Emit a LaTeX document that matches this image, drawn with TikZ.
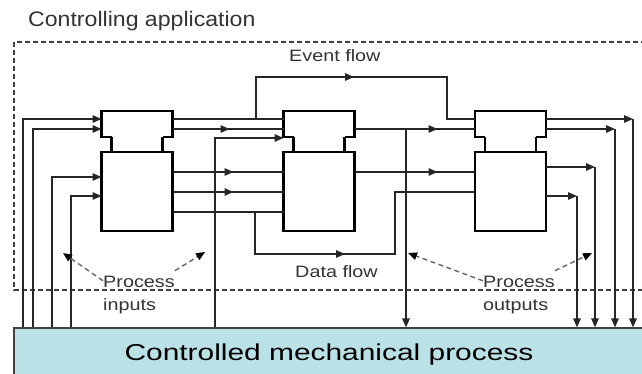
\documentclass[tikz,border=0pt]{standalone}
\usepackage{graphicx}
\usepackage{fontspec}
\setmainfont{Liberation Sans}
\usetikzlibrary{arrows.meta,decorations.markings,calc}

\definecolor{plantfill}{RGB}{186,225,230}

% text is set slightly stretched sideways
\newcommand{\stretchtext}[1]{\scalebox{1.2}[1]{#1}}

\begin{document}
\begin{tikzpicture}[x=1pt,y=-1pt,
  part/.style={rectangle, minimum width=71pt, inner sep=0pt, outer sep=0pt},
  blk/.style={line width=2.8pt, line join=miter},
  wire/.style={line width=1.4pt, black!85},
  tip/.style={-{Triangle[length=9pt,width=7.5pt]}},
  midarrow/.style={postaction={decorate},
    decoration={markings, mark=at position #1 with {\arrow{Triangle[length=9pt,width=7.5pt]}}}},
  pointer/.style={line width=1.4pt, black!60, dash pattern=on 5pt off 3.5pt,
    -{Triangle[length=9pt,width=7.5pt,black]}},
  frame/.style={line width=1.3pt, black!75, dash pattern=on 5pt off 3pt},
  lbl/.style={inner sep=0pt, text=black!80, font=\fontsize{16.5}{23}\selectfont},
  procbox/.style={rectangle, fill=plantfill, draw=black!75, line width=1.2pt,
    minimum width=630pt, minimum height=54pt, inner sep=0pt,
    font=\fontsize{23}{28}\selectfont}
]
\useasboundingbox (0,0) rectangle (642,374);
\fill[white] (0,0) rectangle (642,374);

% controlling application frame
\draw[frame] (14,42) rectangle (650,290);
\node[lbl, anchor=base west, font=\fontsize{21}{24}\selectfont] (capp) at (28,26.5)
  {\scalebox{1.1}[1]{Controlling application}};

% controlled process
\node[procbox] (proc) at (329,355) {\scalebox{1.3}[1]{Controlled mechanical process}};

% function blocks: event part (upper) and data part (lower)
\foreach \i/\cx in {1/137, 2/319, 3/510.5}{
  \node[part, minimum height=26pt] (e\i) at (\cx,124) {};
  \node[part, minimum height=79pt, draw, line width=2.8pt] (d\i) at (\cx,191.5) {};
  \draw[blk] ($(e\i.south west)+(10,0)$) -- (e\i.south west) -- (e\i.north west)
    -- (e\i.north east) -- (e\i.south east) -- ($(e\i.south east)+(-10,0)$);
  \draw[blk] ($(e\i.south west)+(10,0)$) -- ($(d\i.north west)+(10,0)$);
  \draw[blk] ($(e\i.south east)+(-10,0)$) -- ($(d\i.north east)+(-10,0)$);
}

% wire levels
\coordinate (yA) at (0,119);
\coordinate (yB) at (0,129);
\coordinate (yC) at (0,138);
\coordinate (yD) at (0,172);
\coordinate (yE) at (0,192);
\coordinate (yF) at (0,212);
\coordinate (yG) at (0,177);
\coordinate (yH) at (0,196);
\coordinate (yI) at (0,167);
\coordinate (yK) at (0,77);
\coordinate (yL) at (0,254);
% wire columns
\coordinate (xa) at (23,0);
\coordinate (xb) at (33,0);
\coordinate (xc) at (52,0);
\coordinate (xd) at (71,0);
\coordinate (xe) at (215,0);
\coordinate (xf) at (256,0);
\coordinate (xg) at (447,0);
\coordinate (xh) at (255,0);
\coordinate (xi) at (395,0);
\coordinate (xj) at (406,0);
\coordinate (xk) at (577,0);
\coordinate (xl) at (595,0);
\coordinate (xm) at (615,0);
\coordinate (xn) at (633,0);

% process inputs
\draw[wire,tip] (proc.north -| xa) |- (e1.west |- yA);
\draw[wire,tip] (proc.north -| xb) |- (e1.west |- yB);
\draw[wire,tip] (proc.north -| xc) |- (d1.west |- yG);
\draw[wire,tip] (proc.north -| xd) |- (d1.west |- yH);
\draw[wire,tip] (proc.north -| xe) |- (e2.west |- yC);

% block 1 to block 2
\draw[wire] (e1.east |- yA) -- (e2.west |- yA);
\draw[wire,midarrow=57pt] (e1.east |- yB) -- (e2.west |- yB);
\draw[wire,midarrow=61pt] (d1.east |- yD) -- (d2.west |- yD);
\draw[wire,midarrow=61pt] (d1.east |- yE) -- (d2.west |- yE);
\draw[wire] (d1.east |- yF) -- (d2.west |- yF);

% event flow over block 2
\draw[wire,midarrow=140pt] (xf |- yA) -- (xf |- yK) -- (xg |- yK) -- (xg |- yA) -- (e3.west |- yA);
% data flow under block 2
\draw[wire,midarrow=132pt] (xh |- yF) -- (xh |- yL) -- (xi |- yL) -- (xi |- yE) -- (d3.west |- yE);

% block 2 to block 3
\draw[wire,midarrow=83pt] (e2.east |- yB) -- (e3.west |- yB);
\draw[wire,midarrow=83pt] (d2.east |- yD) -- (d3.west |- yD);
\draw[wire,tip] (xj |- yB) -- (proc.north -| xj);

% process outputs
\draw[wire,tip] (e3.east |- yA) -- (xn |- yA);
\draw[wire,tip] (xn |- yA) -- (proc.north -| xn);
\draw[wire,tip] (e3.east |- yB) -- (xm |- yB);
\draw[wire,tip] (xm |- yB) -- (proc.north -| xm);
\draw[wire,tip] (d3.east |- yI) -- (xl |- yI);
\draw[wire,tip] (xl |- yI) -- (proc.north -| xl);
\draw[wire,tip] (d3.east |- yH) -- (xk |- yH);
\draw[wire,tip] (xk |- yH) -- (proc.north -| xk);

% labels
\node[lbl, anchor=base west] (evf) at (289,62) {\stretchtext{Event flow}};
\node[lbl, anchor=base west] (daf) at (295,277) {\stretchtext{Data flow}};
\node[lbl, anchor=base west] (pin) at (103,287)
  {\stretchtext{\begin{tabular}[t]{@{}l@{}}Process\\inputs\end{tabular}}};
\node[lbl, anchor=base west] (pout) at (483,287)
  {\stretchtext{\begin{tabular}[t]{@{}l@{}}Process\\outputs\end{tabular}}};

% pointers from the labels
\coordinate (tA) at (63,253);
\coordinate (tB) at (205,252);
\coordinate (tC) at (408,253);
\coordinate (tD) at (592,253);
\draw[pointer] (pin.160) -- (tA);
\draw[pointer] (pin.north east) -- (tB);
\draw[pointer] (pout.160) -- (tC);
\draw[pointer] (pout.north east) -- (tD);
\end{tikzpicture}
\end{document}
